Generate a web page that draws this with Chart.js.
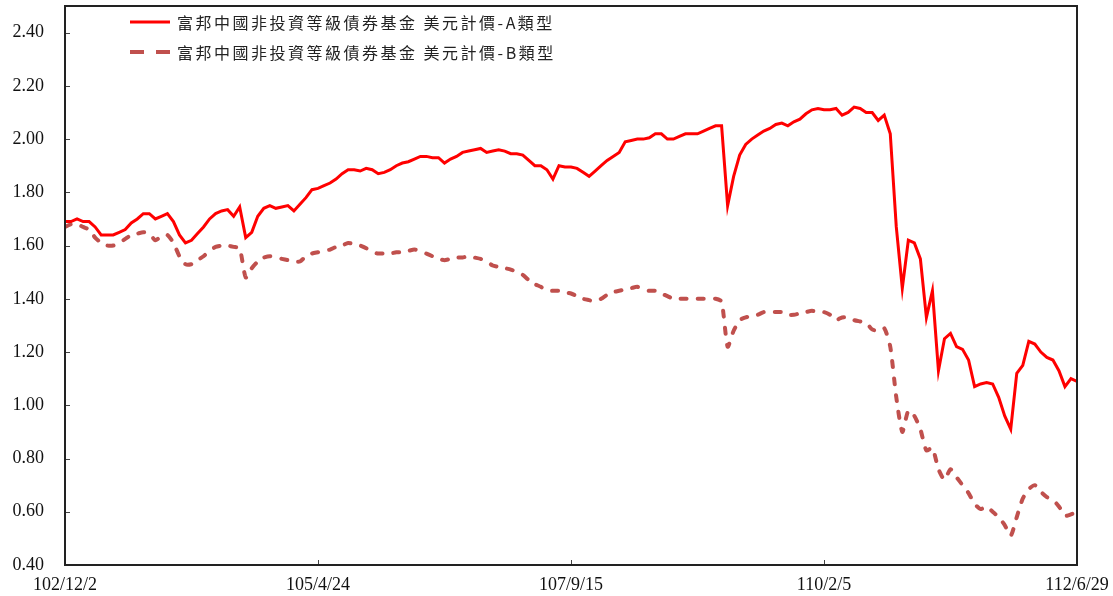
<!DOCTYPE html>
<html>
<head>
<meta charset="utf-8">
<script src="https://cdn.jsdelivr.net/npm/chart.js@4"></script>
<style>
html,body{margin:0;padding:0;background:#fff;}
#wrap{width:1113px;height:596px;}
</style>
</head>
<body>
<div id="wrap"><canvas id="c" width="1113" height="596"></canvas></div>
<script>
const seriesNames = ['富邦中國非投資等級債券基金 美元計價-A類型', '富邦中國非投資等級債券基金 美元計價-B類型'];
const xTickLabels = ['102/12/2', '105/4/24', '107/9/15', '110/2/5', '112/6/29'];
const yTickValues = [0.4, 0.6, 0.8, 1.0, 1.2, 1.4, 1.6, 1.8, 2.0, 2.2, 2.4];

const navA = [
1.69,1.69,1.70,1.69,1.69,1.67,1.64,1.64,1.64,1.65,
1.66,1.685,1.70,1.72,1.72,1.70,1.71,1.72,1.69,1.64,
1.61,1.62,1.645,1.67,1.70,1.72,1.73,1.735,1.71,1.745,
1.63,1.65,1.71,1.74,1.75,1.74,1.745,1.75,1.73,1.755,
1.78,1.81,1.815,1.825,1.835,1.85,1.87,1.885,1.885,1.88,
1.89,1.885,1.87,1.875,1.885,1.90,1.91,1.915,1.925,1.935,
1.935,1.93,1.93,1.91,1.925,1.935,1.95,1.955,1.96,1.965,
1.95,1.955,1.96,1.955,1.945,1.945,1.94,1.92,1.90,1.90,
1.885,1.85,1.90,1.895,1.895,1.89,1.875,1.86,1.88,1.90,
1.92,1.935,1.95,1.99,1.995,2.00,2.00,2.005,2.02,2.02,
2.00,2.00,2.01,2.02,2.02,2.02,2.03,2.04,2.05,2.05,
1.75,1.86,1.94,1.98,2.00,2.015,2.03,2.04,2.055,2.06,
2.05,2.065,2.075,2.095,2.11,2.115,2.11,2.11,2.115,2.09,
2.10,2.12,2.115,2.10,2.10,2.07,2.09,2.02,1.67,1.44,
1.62,1.61,1.55,1.33,1.43,1.13,1.25,1.27,1.22,1.21,
1.17,1.07,1.08,1.085,1.08,1.03,0.96,0.91,1.12,1.15,
1.24,1.23,1.20,1.18,1.17,1.13,1.07,1.10,1.09
];

const navB = [
1.67,1.68,1.68,1.67,1.66,1.63,1.61,1.60,1.60,1.61,
1.625,1.64,1.645,1.65,1.645,1.62,1.635,1.64,1.61,1.56,
1.53,1.53,1.545,1.56,1.58,1.595,1.60,1.60,1.595,1.59,
1.48,1.515,1.54,1.555,1.56,1.555,1.55,1.545,1.54,1.54,
1.56,1.57,1.575,1.58,1.585,1.595,1.60,1.61,1.605,1.60,
1.59,1.575,1.57,1.57,1.57,1.575,1.575,1.58,1.585,1.58,
1.57,1.56,1.55,1.545,1.55,1.555,1.555,1.56,1.555,1.55,
1.54,1.525,1.52,1.515,1.51,1.50,1.49,1.47,1.455,1.445,
1.43,1.43,1.43,1.425,1.42,1.41,1.40,1.395,1.39,1.40,
1.415,1.425,1.43,1.435,1.44,1.445,1.435,1.43,1.43,1.42,
1.41,1.40,1.40,1.40,1.40,1.40,1.40,1.40,1.40,1.39,
1.22,1.28,1.32,1.33,1.335,1.34,1.35,1.35,1.35,1.35,
1.34,1.34,1.345,1.35,1.355,1.35,1.35,1.34,1.32,1.33,
1.33,1.32,1.315,1.31,1.285,1.28,1.29,1.22,1.03,0.90,
0.98,0.96,0.91,0.83,0.84,0.76,0.72,0.76,0.73,0.70,
0.67,0.63,0.61,0.62,0.60,0.58,0.55,0.51,0.58,0.65,
0.685,0.70,0.675,0.655,0.645,0.62,0.585,0.59,0.60
];

const N = navA.length;
const idx = navA.map((_, i) => i);
const xTickPos = xTickLabels.map((_, k) => (N - 1) * k / (xTickLabels.length - 1));

const COLOR_A = '#FF0000';
const COLOR_B = '#C0504D';

const framePlugin = {
  id: 'frame',
  afterDatasetsDraw(chart) {
    const {ctx, chartArea: a, scales} = chart;
    ctx.save();
    ctx.strokeStyle = '#444';
    ctx.lineWidth = 1;
    yTickValues.forEach(v => {
      const y = Math.round(scales.y.getPixelForValue(v)) + 0.5;
      ctx.beginPath(); ctx.moveTo(a.left, y); ctx.lineTo(a.left + 5, y); ctx.stroke();
    });
    xTickPos.forEach(p => {
      const x = Math.round(scales.x.getPixelForValue(p)) + 0.5;
      ctx.beginPath(); ctx.moveTo(x, a.bottom); ctx.lineTo(x, a.bottom - 5); ctx.stroke();
    });
    ctx.strokeStyle = '#222';
    ctx.lineWidth = 2;
    ctx.strokeRect(a.left, a.top, a.right - a.left, a.bottom - a.top);
    const items = [
      {label: seriesNames[0], color: COLOR_A, dash: [], width: 3},
      {label: seriesNames[1], color: COLOR_B, dash: [14, 12], width: 4}
    ];
    items.forEach((it, k) => {
      const y = 22 + k * 30;
      ctx.beginPath();
      ctx.setLineDash(it.dash);
      ctx.strokeStyle = it.color;
      ctx.lineWidth = it.width;
      ctx.moveTo(130, y); ctx.lineTo(170, y); ctx.stroke();
      ctx.setLineDash([]);
      ctx.fillStyle = '#222';
      ctx.font = '16px "Noto Sans CJK TC"';
      ctx.letterSpacing = '2.5px';
      ctx.textBaseline = 'middle';
      ctx.textAlign = 'left';
      ctx.fillText(it.label, 177, y + 1);
      ctx.letterSpacing = '0px';
    });
    ctx.restore();
  }
};

const chart = new Chart(document.getElementById('c'), {
  type: 'line',
  data: {
    datasets: [
      {
        label: seriesNames[0],
        data: idx.map(i => ({x: i, y: navA[i]})),
        borderColor: COLOR_A,
        borderWidth: 3,
        pointRadius: 0,
        tension: 0,
        fill: false
      },
      {
        label: seriesNames[1],
        data: idx.map(i => ({x: i, y: navB[i]})),
        borderColor: COLOR_B,
        borderWidth: 4,
        borderDash: [6, 11],
        borderCapStyle: 'round',
        pointRadius: 0,
        tension: 0.2,
        fill: false
      }
    ]
  },
  options: {
    responsive: false,
    animation: false,
    layout: {padding: {top: 6, right: 36, left: 0, bottom: 0}},
    plugins: {legend: {display: false}, tooltip: {enabled: false}},
    scales: {
      x: {
        type: 'linear',
        min: 0,
        max: N - 1,
        grid: {display: false, drawTicks: false},
        border: {display: false},
        afterBuildTicks(scale) { scale.ticks = xTickPos.map(v => ({value: v})); },
        afterFit(scale) { scale.height = 31; scale.paddingLeft = 0; scale.paddingRight = 0; },
        ticks: {
          padding: 9,
          maxRotation: 0,
          autoSkip: false,
          color: '#111',
          font: {family: '"Liberation Serif"', size: 18},
          callback: (v, i) => xTickLabels[i]
        }
      },
      y: {
        min: 0.4,
        max: 2.5,
        grid: {display: false, drawTicks: false},
        border: {display: false},
        afterBuildTicks(scale) { scale.ticks = yTickValues.map(v => ({value: v})); },
        afterFit(scale) { scale.width = 65; scale.paddingTop = 0; scale.paddingBottom = 0; },
        ticks: {
          padding: 21,
          color: '#111',
          font: {family: '"Liberation Serif"', size: 18},
          callback: v => Number(v).toFixed(2)
        }
      }
    }
  },
  plugins: [framePlugin]
});
</script>
</body>
</html>
